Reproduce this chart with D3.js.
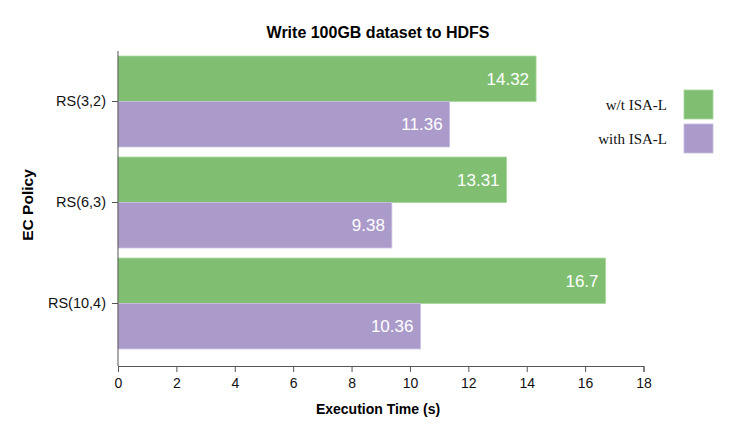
<!DOCTYPE html>
<html><head><meta charset="utf-8">
<script src="https://cdn.jsdelivr.net/npm/d3@7"></script>
<style>body{margin:0;background:#fff}svg{display:block}</style>
</head><body>
<script>
const categories = ["RS(3,2)", "RS(6,3)", "RS(10,4)"];
const seriesNames = ["w/t ISA-L", "with ISA-L"];
const withoutISAL = [14.32, 13.31, 16.7];
const withISAL = [11.36, 9.38, 10.36];
const xTicks = [0, 2, 4, 6, 8, 10, 12, 14, 16, 18];
const colors = ["#80bf72", "#ab9bca"];

const W = 729, H = 424;
const svg = d3.select("body").append("svg").attr("width", W).attr("height", H);
const font = "Liberation Sans, Arial, Helvetica, sans-serif";

const x = d3.scaleLinear().domain([0, 18]).range([118, 643.5]);
const y = d3.scaleBand().domain(categories).range([51, 354]).paddingInner(0.1).paddingOuter(0.05);
const ySub = d3.scaleBand().domain(seriesNames).range([0, y.bandwidth()]);
const xAxisY = 366;

const data = categories.map((c, i) => ({cat: c, vals: [withoutISAL[i], withISAL[i]]}));

const g = svg.append("g");
data.forEach(d => {
  d.vals.forEach((v, j) => {
    const yy = y(d.cat) + ySub(seriesNames[j]);
    g.append("rect").attr("x", x(0)).attr("y", yy)
      .attr("width", x(v) - x(0)).attr("height", ySub.bandwidth())
      .attr("fill", colors[j]).attr("stroke", j === 0 ? "#a6d89b" : "#c9bde0").attr("stroke-width", 0.8);
    g.append("text").attr("x", x(v) - 7).attr("y", yy + ySub.bandwidth() / 2 + 6)
      .attr("text-anchor", "end").attr("fill", "#fff")
      .style("font-family", font).style("font-size", "17px").text(String(v));
  });
});

// x axis
const xAxis = d3.axisBottom(x).tickValues(xTicks).tickSizeOuter(6).tickSize(6).tickPadding(6).tickFormat(d3.format("d"));
const xg = svg.append("g").attr("transform", `translate(0,${xAxisY})`).call(xAxis);
xg.selectAll("text").style("font-family", font).style("font-size", "14px").attr("fill", "#111");
xg.selectAll("line,path").attr("stroke", "#555");

// y axis
const yAxis = d3.axisLeft(y).tickSize(6).tickSizeOuter(0).tickPadding(6);
const yg = svg.append("g").attr("transform", `translate(${x(0)},0)`).call(yAxis);
yg.select(".domain").remove();
yg.append("line").attr("x1", 0).attr("x2", 0).attr("y1", 51).attr("y2", xAxisY).attr("stroke", "#555");
yg.selectAll("text").style("font-family", font).style("font-size", "14.5px").attr("fill", "#111");
yg.selectAll(".tick line").attr("stroke", "#555");

// titles
svg.append("text").attr("x", 378).attr("y", 38).attr("text-anchor", "middle")
  .style("font-family", font).style("font-size", "16px").style("font-weight", "bold").text("Write 100GB dataset to HDFS");
svg.append("text").attr("x", 378).attr("y", 414).attr("text-anchor", "middle")
  .style("font-family", font).style("font-size", "14px").style("font-weight", "bold").text("Execution Time (s)");
svg.append("text").attr("transform", "translate(33,205) rotate(-90)").attr("text-anchor", "middle")
  .style("font-family", font).style("font-size", "15.5px").style("font-weight", "bold").text("EC Policy");

// legend
const leg = svg.append("g");
seriesNames.forEach((s, i) => {
  const ly = 90 + i * 34;
  leg.append("rect").attr("x", 684).attr("y", ly).attr("width", 29).attr("height", 29).attr("fill", colors[i])
    .attr("stroke", i === 0 ? "#a6d89b" : "#c9bde0").attr("stroke-width", 0.8);
  leg.append("text").attr("x", 667).attr("y", ly + 20).attr("text-anchor", "end")
    .style("font-family", "Liberation Serif, Times New Roman, serif").style("font-size", "15px").attr("fill", "#111").text(s);
});
</script>
</body></html>
